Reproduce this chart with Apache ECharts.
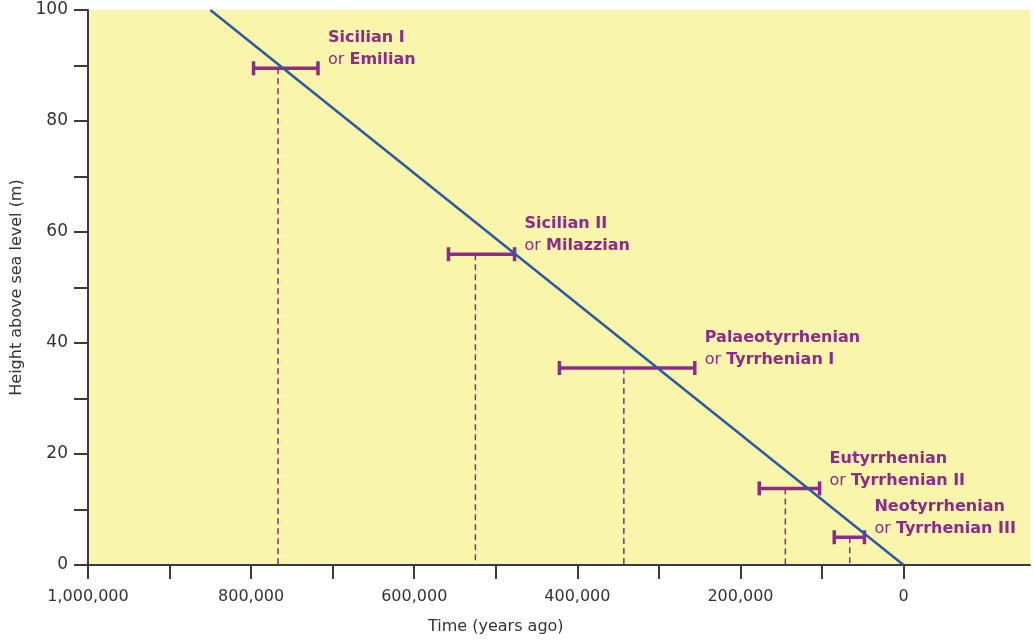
<!DOCTYPE html>
<html>
<head>
<meta charset="utf-8">
<title>Marine terraces: height vs. age</title>
<script src="https://cdn.jsdelivr.net/npm/echarts@6/dist/echarts.min.js"></script>
<style>
  html, body { margin: 0; padding: 0; background: #ffffff; }
  #chart { width: 1034px; height: 643px; }
</style>
</head>
<body>
<div id="chart"></div>
<script>
// Terrace stages: main name, alternative name, height (m) and age span (years ago)
const stageNames = ['Sicilian I', 'Sicilian II', 'Palaeotyrrhenian', 'Eutyrrhenian', 'Neotyrrhenian'];
const altNames = ['Emilian', 'Milazzian', 'Tyrrhenian I', 'Tyrrhenian II', 'Tyrrhenian III'];
const heights = [89.5, 56, 35.5, 13.8, 5];
const ageOldest = [797000, 558000, 422000, 177000, 85000];
const ageYoungest = [718000, 477000, 256000, 103000, 48000];
const ageMarked = [767000, 525000, 343000, 145000, 66000];

// Uplift trend line (years ago, height m)
const trendAges = [850000, 0];
const trendHeights = [100, 0];

// Axis ticks and labels
const xTickValues = [0, 100000, 200000, 300000, 400000, 500000, 600000, 700000, 800000, 900000, 1000000];
const xLabelValues = [0, 200000, 400000, 600000, 800000, 1000000];
const yLabelValues = [0, 20, 40, 60, 80, 100];

const PURPLE = '#8d2a8b';
const BLUE = '#2a59a6';
const AXIS = '#3a3a3a';
const FONT = '"DejaVu Sans", sans-serif';

function withCommas(v) {
  return String(v).replace(/\B(?=(\d{3})+(?!\d))/g, ',');
}

const stageData = stageNames.map((n, i) => [ageOldest[i], ageYoungest[i], ageMarked[i], heights[i], i]);
const trendData = trendAges.map((a, i) => [a, trendHeights[i]]);

const chart = echarts.init(document.getElementById('chart'), null, { renderer: 'canvas' });

const option = {
  animation: false,
  backgroundColor: '#ffffff',
  grid: {
    left: 88, top: 10, right: 4, bottom: 78,
    show: true, backgroundColor: '#f9f5aa', borderWidth: 0
  },
  xAxis: {
    type: 'value',
    inverse: true,
    min: -155000,
    max: 1000000,
    axisLine: { show: true, onZero: false, lineStyle: { color: AXIS, width: 2 } },
    axisTick: {
      show: true, inside: false, length: 14,
      customValues: xTickValues,
      lineStyle: { color: AXIS, width: 2 }
    },
    axisLabel: {
      customValues: xLabelValues,
      formatter: v => withCommas(v),
      margin: 24,
      color: '#333333',
      fontFamily: FONT,
      fontSize: 16
    },
    splitLine: { show: false }
  },
  yAxis: {
    type: 'value',
    min: 0, max: 100, interval: 10,
    name: 'Height above sea level (m)',
    nameLocation: 'middle',
    nameGap: 60,
    nameTextStyle: { color: '#333333', fontFamily: FONT, fontSize: 16 },
    axisLine: { show: true, onZero: false, lineStyle: { color: AXIS, width: 2 } },
    axisTick: { show: true, inside: false, length: 14, lineStyle: { color: AXIS, width: 2 } },
    axisLabel: {
      formatter: v => (yLabelValues.indexOf(v) >= 0 ? String(v) : ''),
      margin: 20,
      color: '#333333',
      fontFamily: FONT,
      fontSize: 17
    },
    splitLine: { show: false }
  },
  series: [
    {
      // Age ranges with drop lines and stage labels
      type: 'custom',
      z: 2,
      data: stageData,
      renderItem: function (params, api) {
        const oldest = api.value(0), youngest = api.value(1), marked = api.value(2), h = api.value(3);
        const idx = api.value(4);
        const pOld = api.coord([oldest, h]);
        const pYoung = api.coord([youngest, h]);
        const pMark = api.coord([marked, h]);
        const pBase = api.coord([marked, 0]);
        const cap = 7;
        const barStyle = { stroke: PURPLE, lineWidth: 3.5 };
        return {
          type: 'group',
          children: [
            {
              type: 'line',
              shape: { x1: pMark[0], y1: pMark[1], x2: pBase[0], y2: pBase[1] },
              style: { stroke: PURPLE, lineWidth: 1.5, lineDash: [6, 4] }
            },
            {
              type: 'line',
              shape: { x1: pOld[0], y1: pOld[1], x2: pYoung[0], y2: pYoung[1] },
              style: barStyle
            },
            {
              type: 'line',
              shape: { x1: pOld[0], y1: pOld[1] - cap, x2: pOld[0], y2: pOld[1] + cap },
              style: barStyle
            },
            {
              type: 'line',
              shape: { x1: pYoung[0], y1: pYoung[1] - cap, x2: pYoung[0], y2: pYoung[1] + cap },
              style: barStyle
            },
            {
              type: 'text',
              x: pYoung[0] + 10,
              y: pYoung[1] + 3,
              style: {
                text: '{b|' + stageNames[idx] + '}\n{r|or }{b|' + altNames[idx] + '}',
                verticalAlign: 'bottom',
                align: 'left',
                rich: {
                  b: { fontFamily: FONT, fontSize: 16, fontWeight: 'bold', fill: PURPLE, lineHeight: 22 },
                  r: { fontFamily: FONT, fontSize: 16, fontWeight: 'normal', fill: PURPLE, lineHeight: 22 }
                }
              }
            }
          ]
        };
      }
    },
    {
      type: 'line',
      z: 3,
      data: trendData,
      symbol: 'none',
      lineStyle: { color: BLUE, width: 2.5 }
    }
  ]
};

chart.setOption(option);

// X-axis title centred under the 0 – 1,000,000 span
const left = chart.convertToPixel({ xAxisIndex: 0 }, 1000000);
const right = chart.convertToPixel({ xAxisIndex: 0 }, 0);
chart.setOption({
  graphic: [{
    type: 'text',
    x: (left + right) / 2,
    y: 627,
    style: {
      text: 'Time (years ago)',
      align: 'center',
      verticalAlign: 'middle',
      fontFamily: FONT,
      fontSize: 16,
      fill: '#333333'
    }
  }]
});
</script>
</body>
</html>
